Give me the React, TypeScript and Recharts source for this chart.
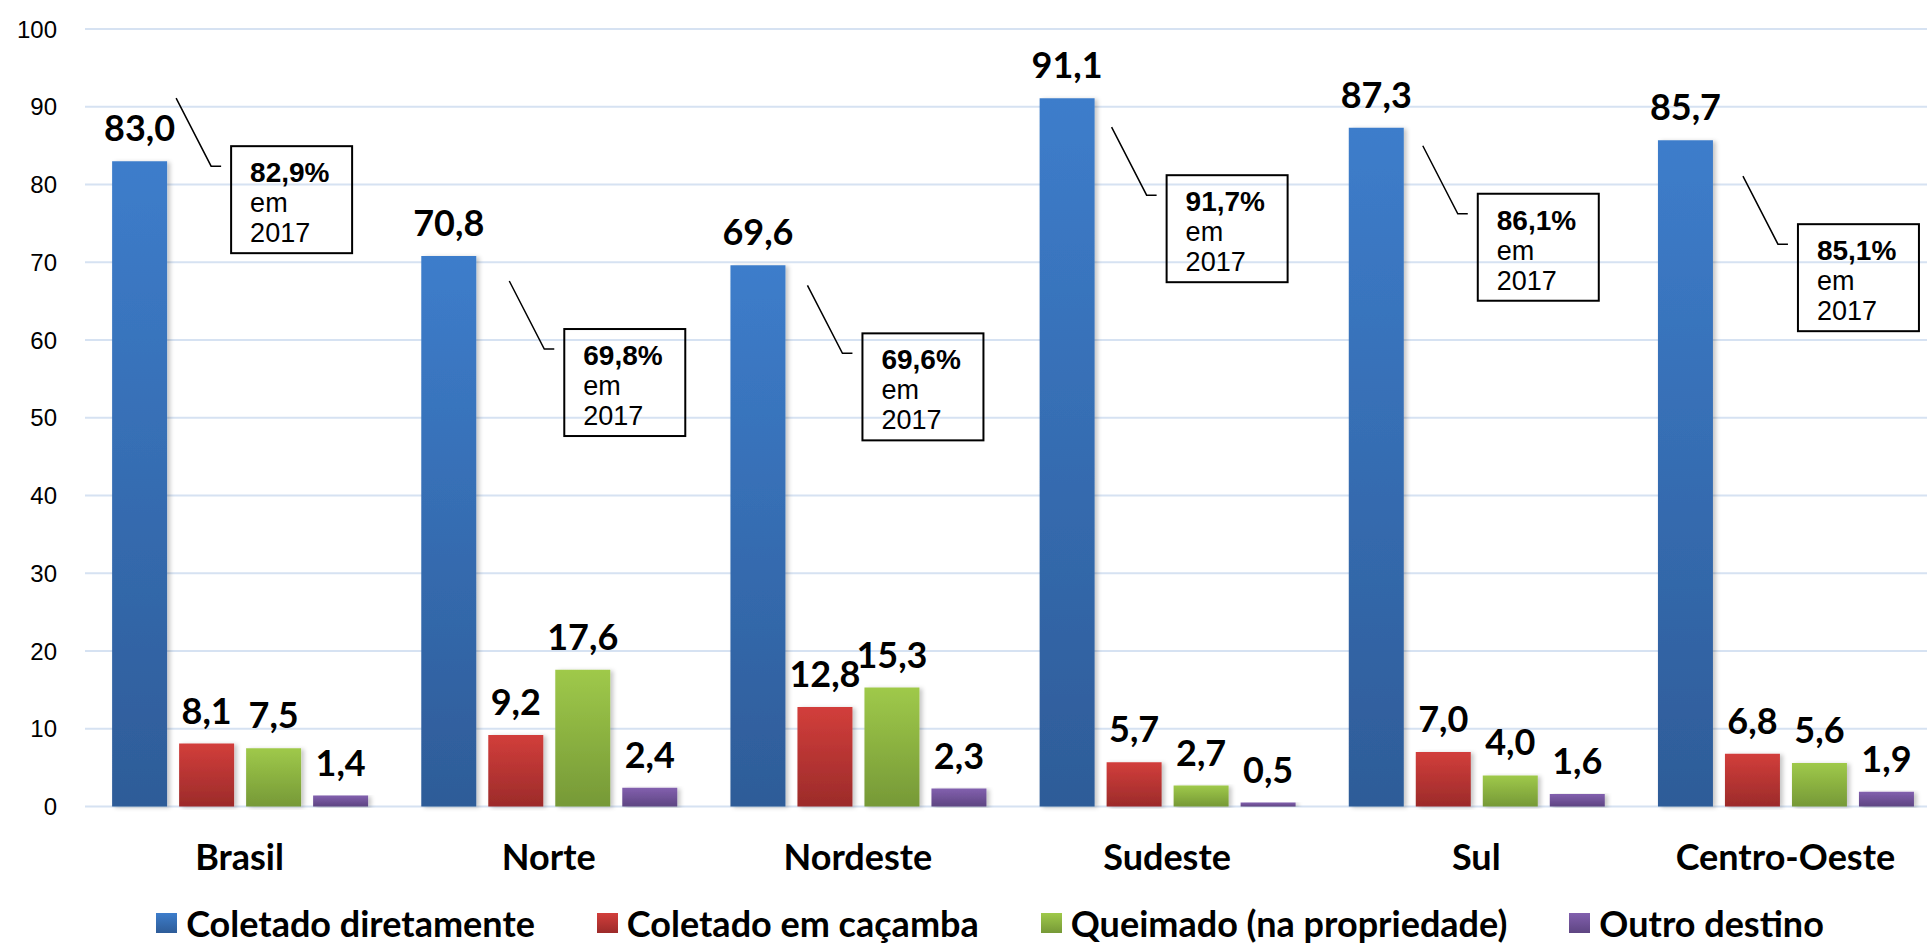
import React from 'react';
import { BarChart, Bar, XAxis, YAxis, CartesianGrid, Legend, LabelList } from 'recharts';

const categories = ['Brasil', 'Norte', 'Nordeste', 'Sudeste', 'Sul', 'Centro-Oeste'];
const coletadoDiretamente = [83.0, 70.8, 69.6, 91.1, 87.3, 85.7];
const coletadoCacamba = [8.1, 9.2, 12.8, 5.7, 7.0, 6.8];
const queimado = [7.5, 17.6, 15.3, 2.7, 4.0, 5.6];
const outroDestino = [1.4, 2.4, 2.3, 0.5, 1.6, 1.9];
const valores2017 = [82.9, 69.8, 69.6, 91.7, 86.1, 85.1];
const yTicks = [0, 10, 20, 30, 40, 50, 60, 70, 80, 90, 100];
const seriesNames = ['Coletado diretamente', 'Coletado em caçamba', 'Queimado (na propriedade)', 'Outro destino'];
const seriesKeys = ['diretamente', 'cacamba', 'queimado', 'outro'];

// layout of the hand-placed 2017 callouts, relative to the top-right corner of each blue bar
const calloutOffsets: [number, number][] = [[64, -15], [88, 73], [77, 68], [72, 77], [74, 66], [85, 84]];

const seriesGradients = [
  ['#3D7DCB', '#2E5C98'],
  ['#D23E3B', '#9C2B2A'],
  ['#9FC94A', '#769937'],
  ['#8260AE', '#5E4582'],
];

const data = categories.map((name, i) => ({
  name,
  diretamente: coletadoDiretamente[i],
  cacamba: coletadoCacamba[i],
  queimado: queimado[i],
  outro: outroDestino[i],
}));

const fmt = (v: number) => v.toFixed(1).replace('.', ',');

const LABEL_FONT = 'Lato, "Noto Sans", sans-serif';
const ARIAL = '"Liberation Sans", Arial, sans-serif';

const Callout = (props: any) => {
  const vb = props.viewBox && props.viewBox.width !== undefined ? props.viewBox : props;
  const { x, y, width } = vb;
  const i = props.index;
  if (x === undefined || i === undefined) return null;
  const [dx, dy] = calloutOffsets[i];
  const bx = x + width + dx;
  const by = y + dy;
  return (
    <g>
      <polyline
        points={`${bx - 55},${by - 48} ${bx - 20},${by + 20} ${bx - 10},${by + 20}`}
        fill="none"
        stroke="#000"
        strokeWidth={1.5}
      />
      <rect x={bx} y={by} width={121} height={107} fill="none" stroke="#000" strokeWidth={2} />
      <text x={bx + 19} y={by + 36} fontFamily={ARIAL} fontWeight="bold" fontSize={28} fill="#000">
        {fmt(valores2017[i])}%
      </text>
      <text x={bx + 19} y={by + 66} fontFamily={ARIAL} fontSize={27} fill="#000">
        em
      </text>
      <text x={bx + 19} y={by + 96} fontFamily={ARIAL} fontSize={27} fill="#000">
        2017
      </text>
    </g>
  );
};

const renderLegend = () => (
  <div
    style={{
      height: 40,
      display: 'flex',
      justifyContent: 'center',
      alignItems: 'center',
      paddingLeft: 40,
      paddingBottom: 7,
      boxSizing: 'border-box',
      fontFamily: LABEL_FONT,
      fontWeight: 700,
      fontSize: 36,
      color: '#000',
    }}
  >
    {seriesNames.map((n, i) => (
      <div key={n} style={{ display: 'flex', alignItems: 'center', marginRight: i < seriesNames.length - 1 ? 62 : 0 }}>
        <div
          style={{
            width: 21,
            height: 20,
            marginRight: 9,
            background: `linear-gradient(${seriesGradients[i][0]}, ${seriesGradients[i][1]})`,
          }}
        />
        <span style={{ lineHeight: 1, whiteSpace: 'nowrap' }}>{n}</span>
      </div>
    ))}
  </div>
);

export default function App() {
  return (
    <div style={{ position: 'absolute', left: 0, top: 0, width: 1927, height: 946, overflow: 'hidden', background: '#fff' }}>
      <BarChart
        width={1940}
        height={946}
        data={data}
        margin={{ top: 29, right: 0, left: 0, bottom: 0 }}
        barCategoryGap="8.77%"
        barGap={12}
      >
        <defs>
          {seriesGradients.map((g, i) => (
            <linearGradient key={i} id={`grad${i}`} x1="0" y1="0" x2="0" y2="1">
              <stop offset="0%" stopColor={g[0]} />
              <stop offset="100%" stopColor={g[1]} />
            </linearGradient>
          ))}
          <filter id="barShadow" x="-20%" y="-5%" width="140%" height="110%">
            <feDropShadow dx="3" dy="1" stdDeviation="2" floodColor="#000" floodOpacity="0.22" />
          </filter>
        </defs>
        <CartesianGrid vertical={false} stroke="#D6E2F2" strokeWidth={2} />
        <XAxis
          dataKey="name"
          axisLine={false}
          tickLine={false}
          tickSize={0}
          tickMargin={38}
          height={99.5}
          interval={0}
          tick={{ fontFamily: LABEL_FONT, fontWeight: 700, fontSize: 36, fill: '#000' }}
        />
        <YAxis
          domain={[0, 100]}
          ticks={yTicks}
          width={85}
          axisLine={false}
          tickLine={false}
          tickSize={0}
          tickMargin={28}
          tick={{ fontFamily: ARIAL, fontSize: 24, fill: '#000' }}
        />
        <Legend verticalAlign="bottom" content={renderLegend} />
        {seriesKeys.map((k, i) => (
          <Bar
            key={k}
            dataKey={k}
            name={seriesNames[i]}
            fill={`url(#grad${i})`}
            filter="url(#barShadow)"
            isAnimationActive={false}
          >
            <LabelList
              dataKey={k}
              position="top"
              offset={20}
              formatter={(v: any) => fmt(Number(v))}
              style={{ fontFamily: LABEL_FONT, fontWeight: 700, fontSize: 36, fill: '#000' }}
            />
            {i === 0 && <LabelList dataKey={k} content={<Callout />} />}
          </Bar>
        ))}
      </BarChart>
    </div>
  );
}
